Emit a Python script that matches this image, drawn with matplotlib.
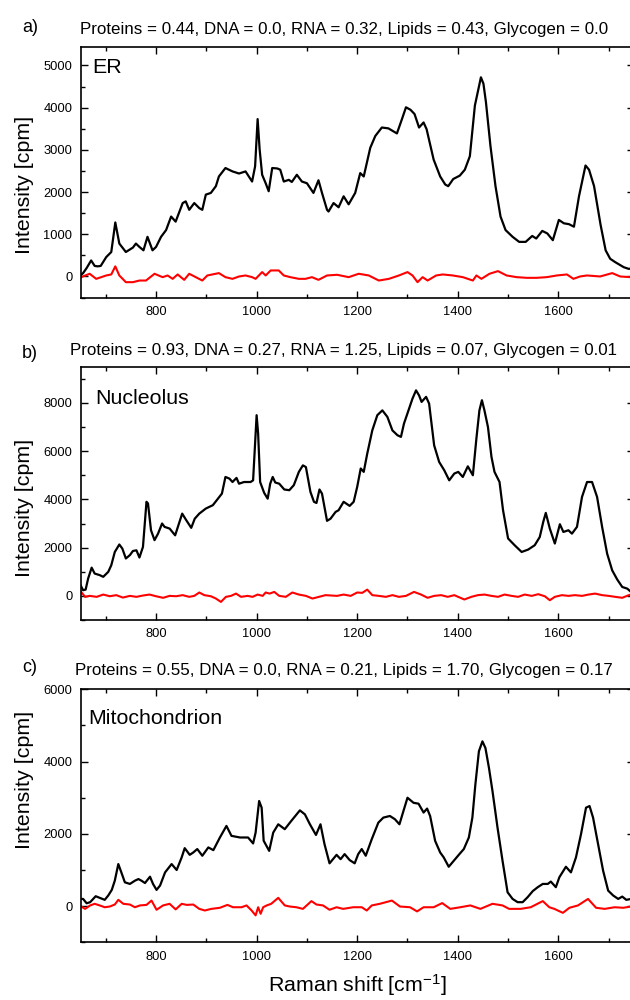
import matplotlib
matplotlib.use('Agg')
import matplotlib.pyplot as plt
from matplotlib.ticker import MultipleLocator

plt.rcParams['font.family'] = ['Liberation Sans', 'DejaVu Sans']
plt.rcParams['mathtext.default'] = 'regular'

# ER spectrum (black) and residual (red)
er_x = [650, 655, 662, 671, 678, 684, 690, 701, 711, 719, 727, 740, 754, 760, 767, 775, 783, 793, 800, 810,
        820, 830, 839, 853, 859, 866, 876, 886, 892, 899, 909, 919, 925, 938, 952, 965, 978, 991, 997, 1002,
        1006, 1011, 1018, 1024, 1031, 1041, 1047, 1054, 1064, 1070, 1080, 1090, 1100, 1113, 1123, 1130, 1140,
        1143, 1153, 1163, 1173, 1183, 1196, 1206, 1213, 1226, 1236, 1249, 1262, 1279, 1289, 1297, 1306, 1314,
        1323, 1332, 1338, 1352, 1365, 1375, 1381, 1391, 1404, 1414, 1424, 1434, 1446, 1451, 1456, 1465, 1475,
        1485, 1495, 1509, 1522, 1535, 1548, 1556, 1568, 1578, 1589, 1601, 1611, 1621, 1631, 1641, 1654, 1661,
        1671, 1684, 1694, 1703, 1713, 1730, 1740, 1750]
er_y = [30, 80, 200, 380, 250, 240, 250, 460, 580, 1280, 780, 580, 685, 780, 700, 620, 940, 620, 700, 940,
        1100, 1420, 1300, 1740, 1780, 1580, 1740, 1620, 1580, 1940, 1980, 2140, 2370, 2570, 2490, 2440, 2490, 2250, 2610, 3730,
        3010, 2410, 2210, 2020, 2570, 2560, 2530, 2250, 2290, 2240, 2410, 2250, 2210, 1980, 2280, 1980, 1580,
        1540, 1740, 1640, 1900, 1710, 1980, 2450, 2370, 3050, 3330, 3530, 3510, 3390, 3730, 4010, 3950, 3850,
        3530, 3650, 3490, 2770, 2370, 2180, 2140, 2310, 2390, 2530, 2850, 4050, 4720, 4570, 4130, 3090, 2140,
        1420, 1100, 940, 820, 820, 960, 900, 1080, 1020, 860, 1340, 1260, 1240, 1180, 1900, 2630, 2530,
        2140, 1220, 620, 420, 340, 220, 180, 200]
er_res_x = [651, 668, 681, 701, 711, 719, 727, 740, 754, 767, 780, 797, 813, 823, 833, 843, 856, 866, 879, 892,
            902, 925, 938, 952, 965, 978, 991, 998, 1011, 1018, 1028, 1044, 1054, 1067, 1084, 1097, 1110, 1123,
            1140, 1160, 1183, 1203, 1223, 1243, 1263, 1283, 1300, 1310, 1320, 1330, 1340, 1357, 1370, 1390,
            1410, 1430, 1437, 1447, 1463, 1480, 1497, 1517, 1537, 1557, 1577, 1597, 1617, 1630, 1643, 1657,
            1683, 1707, 1723, 1743, 1750]
er_res_y = [-16, 64, -56, 24, 48, 240, 24, -135, -135, -96, -96, 64, -16, 24, -56, 48, -80, 64, -16, -96,
            24, 80, -16, -56, 0, 24, -16, -56, 104, 24, 143, 143, 24, -16, -56, -56, -16, -80,
            24, 40, -16, 64, 24, -96, -56, 24, 104, 24, -135, -16, -96, 24, 48, 24,
            -16, -96, 24, -56, 64, 127, 24, -16, -32, -32, -16, 24, 48, -56, 0, 24,
            0, 80, 0, -16, 0]

# Nucleolus
nu_x = [650, 655, 660, 665, 672, 678, 688, 695, 705, 711, 718, 727, 733, 740, 748, 754, 761, 767, 774, 781,
        784, 790, 797, 804, 812, 817, 827, 838, 852, 860, 870, 877, 886, 899, 913, 923, 931, 938, 946, 952,
        960, 965, 975, 988, 993, 997, 1000, 1003, 1007, 1015, 1022, 1027, 1032, 1037, 1045, 1055, 1065, 1074,
        1084, 1092, 1098, 1107, 1114, 1119, 1125, 1130, 1140, 1147, 1157, 1163, 1173, 1185, 1193, 1200, 1207,
        1213, 1220, 1230, 1240, 1250, 1260, 1270, 1280, 1287, 1293, 1303, 1310, 1317, 1323, 1328, 1337, 1343,
        1353, 1363, 1373, 1383, 1393, 1401, 1410, 1420, 1430, 1437, 1443, 1448, 1453, 1460, 1467, 1473, 1483,
        1490, 1500, 1513, 1527, 1540, 1553, 1563, 1570, 1575, 1583, 1593, 1603, 1610, 1620, 1627, 1637, 1647,
        1657, 1667, 1677, 1687, 1697, 1707, 1717, 1727, 1737, 1747, 1750]
nu_y = [440, 235, 260, 720, 1170, 925, 860, 790, 995, 1270, 1820, 2130, 1960, 1550, 1690, 1860, 1890, 1590, 2030, 3900,
        3830, 2720, 2310, 2580, 3000, 2860, 2790, 2510, 3410, 3140, 2820, 3200, 3410, 3620, 3760, 4030, 4240, 4930, 4860, 4720,
        4890, 4650, 4720, 4720, 4790, 6310, 7490, 6730, 4720, 4270, 4030, 4650, 4930, 4700, 4650, 4410, 4380, 4590,
        5140, 5410, 5340, 4310, 3900, 3850, 4410, 4240, 3110, 3200, 3480, 3550, 3900, 3730, 3900, 4520, 5280,
        5140, 5900, 6860, 7490, 7690, 7420, 6860, 6660, 6590, 7140, 7760, 8180, 8520, 8310, 8040, 8250, 7970,
        6240, 5550, 5210, 4790, 5070, 5140, 4930, 5370, 5000, 6520, 7690, 8110, 7690, 7000, 5760, 5140, 4720,
        3550, 2380, 2100, 1820, 1920, 2100, 2440, 3070, 3440, 2790, 2170, 2970, 2650, 2720, 2580, 2860, 4100,
        4720, 4720, 4100, 2860, 1750, 1060, 680, 370, 300, 120, 100]
nu_res_x = [651, 659, 668, 682, 695, 708, 721, 734, 748, 761, 774, 787, 800, 814, 827, 840, 853, 866, 876, 886,
            896, 909, 919, 929, 939, 949, 959, 969, 982, 992, 1002, 1012, 1018, 1026, 1035, 1045, 1058, 1071,
            1084, 1098, 1111, 1124, 1137, 1160, 1173, 1187, 1200, 1210, 1220, 1230, 1243, 1257, 1270, 1283,
            1297, 1313, 1327, 1340, 1353, 1367, 1380, 1393, 1413, 1427, 1440, 1453, 1467, 1480, 1493, 1507,
            1520, 1533, 1547, 1560, 1573, 1583, 1593, 1607, 1620, 1633, 1647, 1660, 1673, 1687, 1700, 1713,
            1727, 1740, 1747]
nu_res_y = [165, -40, 0, -40, 55, -15, 30, -70, 0, -40, 15, 55, -15, -80, 0, -15, 30, -40, 0, 140,
            30, -15, -110, -250, -40, 0, 95, -40, 0, -40, 55, 0, 140, 95, 165, 0, -40, 140,
            55, 0, -110, -40, 30, 0, 55, 0, 140, 125, 260, 30, 0, -40, 30, -40,
            0, 165, 55, -80, 0, 30, -40, 30, -150, -40, 30, 55, 0, -40, 55, 0,
            -40, 55, 0, 70, -15, -180, -40, 30, 0, 30, 0, 55, 95, 30, 0, -40,
            -80, 30, 70]

# Mitochondrion
mi_x = [650, 655, 662, 669, 680, 688, 698, 705, 712, 718, 725, 731, 738, 748, 758, 765, 771, 778, 788, 794,
        801, 808, 818, 831, 841, 851, 857, 867, 874, 882, 892, 904, 914, 927, 940, 950, 967, 983, 993, 998,
        1005, 1010, 1014, 1025, 1033, 1043, 1056, 1069, 1086, 1096, 1106, 1118, 1127, 1135, 1145, 1159, 1167,
        1175, 1185, 1195, 1202, 1209, 1217, 1229, 1242, 1252, 1265, 1275, 1284, 1292, 1300, 1312, 1322, 1332,
        1339, 1345, 1355, 1365, 1372, 1382, 1392, 1402, 1412, 1422, 1429, 1435, 1442, 1449, 1455, 1462, 1469,
        1479, 1489, 1499, 1509, 1519, 1529, 1539, 1549, 1559, 1569, 1579, 1585, 1595, 1602, 1615, 1625, 1635,
        1645, 1655, 1662, 1669, 1679, 1689, 1699, 1709, 1719, 1727, 1735, 1745, 1750]
mi_y = [200, 200, 80, 110, 275, 230, 175, 295, 450, 705, 1165, 935, 660, 615, 705, 750, 705, 640, 815, 615,
        450, 570, 935, 1165, 1000, 1350, 1605, 1420, 1485, 1580, 1395, 1625, 1550, 1900, 2220, 1945, 1900, 1900, 1735, 2035,
        2910, 2725, 1810, 1530, 2035, 2265, 2130, 2360, 2650, 2540, 2265, 1970, 2265, 1715, 1185, 1420, 1300,
        1440, 1275, 1185, 1440, 1580, 1395, 1855, 2310, 2450, 2495, 2405, 2265, 2635, 3000, 2860, 2835, 2590,
        2700, 2495, 1805, 1485, 1350, 1090, 1255, 1420, 1580, 1900, 2450, 3370, 4285, 4560, 4375, 3825, 3185,
        2175, 1255, 385, 200, 110, 110, 250, 415, 525, 615, 615, 680, 525, 800, 1090, 935, 1350,
        1990, 2725, 2770, 2450, 1715, 980, 430, 295, 200, 265, 175, 200, 200]
mi_res_x = [651, 659, 669, 678, 688, 698, 708, 718, 725, 735, 748, 758, 768, 781, 791, 801, 814, 827, 839, 851,
            861, 874, 886, 897, 910, 927, 942, 953, 970, 980, 990, 998, 1003, 1008, 1013, 1020, 1029, 1043,
            1056, 1066, 1079, 1092, 1109, 1119, 1132, 1145, 1159, 1172, 1192, 1209, 1219, 1229, 1245, 1269,
            1285, 1305, 1319, 1332, 1352, 1369, 1385, 1405, 1425, 1445, 1469, 1489, 1502, 1525, 1545, 1569,
            1582, 1592, 1609, 1622, 1639, 1659, 1675, 1692, 1712, 1729, 1745, 1750]
mi_res_y = [-10, -75, 20, 65, 20, -30, -10, 45, 175, 65, 45, -30, 20, 35, 155, -100, 20, 65, -90, 65,
            35, 45, -75, -120, -75, -45, 35, -30, -30, 20, -120, -255, -30, -210, -30, 20, 65, 230,
            20, -10, -30, -75, 140, 45, 20, -100, -30, -75, -30, -30, -120, 20, 65, 155,
            -10, -30, -145, -30, -30, 85, -75, -30, 20, -75, 65, 20, -75, -75, -30, 140,
            -30, -75, -185, -45, 20, 200, -45, -75, -30, -45, -10, 0]

panels = [
    ('a)', 'Proteins = 0.44, DNA = 0.0, RNA = 0.32, Lipids = 0.43, Glycogen = 0.0', 'ER',
     er_x, er_y, er_res_x, er_res_y, (-510, 5450), 1000, 500),
    ('b)', 'Proteins = 0.93, DNA = 0.27, RNA = 1.25, Lipids = 0.07, Glycogen = 0.01', 'Nucleolus',
     nu_x, nu_y, nu_res_x, nu_res_y, (-1000, 9500), 2000, 1000),
    ('c)', 'Proteins = 0.55, DNA = 0.0, RNA = 0.21, Lipids = 1.70, Glycogen = 0.17', 'Mitochondrion',
     mi_x, mi_y, mi_res_x, mi_res_y, (-1000, 6000), 2000, 1000),
]

# pixel layout (top, bottom) of each panel, and label positions
W, H = 630, 1000
boxes = [(46.5, 298), (366.7, 620), (689.3, 942.3)]
tag_y = [27, 353, 668]
title_y = [29.5, 350, 670]
name_pos = [(92, 73.3), (95, 404), (88, 724)]
ylab_y = [185, 508, 780]

fig = plt.figure(figsize=(6.3, 10), dpi=100)
left, right = 80.6, 633.8   # right spine falls just outside the picture

for i, (tag, title, name, x, y, rx, ry, ylim, ymaj, ymin) in enumerate(panels):
    top, bot = boxes[i]
    ax = fig.add_axes([left / W, 1 - bot / H, (right - left) / W, (bot - top) / H])
    ax.plot(x, y, color='black', lw=1.6)
    ax.plot(rx, ry, color='#ff0000', lw=1.5)
    ax.set_xlim(650, 1750)
    ax.set_ylim(*ylim)
    ax.xaxis.set_major_locator(MultipleLocator(200))
    ax.xaxis.set_minor_locator(MultipleLocator(100))
    ax.yaxis.set_major_locator(MultipleLocator(ymaj))
    ax.yaxis.set_minor_locator(MultipleLocator(ymin))
    ax.tick_params(which='both', direction='in', top=True, right=True, width=1, labelsize=9.3, pad=6)
    ax.tick_params(which='major', length=5)
    ax.tick_params(which='minor', length=2.8)
    for s in ax.spines.values():
        s.set_linewidth(1.2)
    fig.text(30 / W, 1 - tag_y[i] / H, tag, fontsize=13, ha='center', va='center')
    fig.text(344 / W, 1 - title_y[i] / H, title, fontsize=12.2, ha='center', va='center')
    fig.text(name_pos[i][0] / W, 1 - name_pos[i][1] / H, name, fontsize=15.4, ha='left', va='baseline')
    fig.text(24 / W, 1 - ylab_y[i] / H, 'Intensity [cpm]', fontsize=15.4, rotation=90,
             ha='center', va='center')

fig.text(357 / W, 1 - 985 / H, 'Raman shift [cm$^{-1}$]', fontsize=15.4, ha='center', va='center')

fig.savefig('out.png', dpi=100)
